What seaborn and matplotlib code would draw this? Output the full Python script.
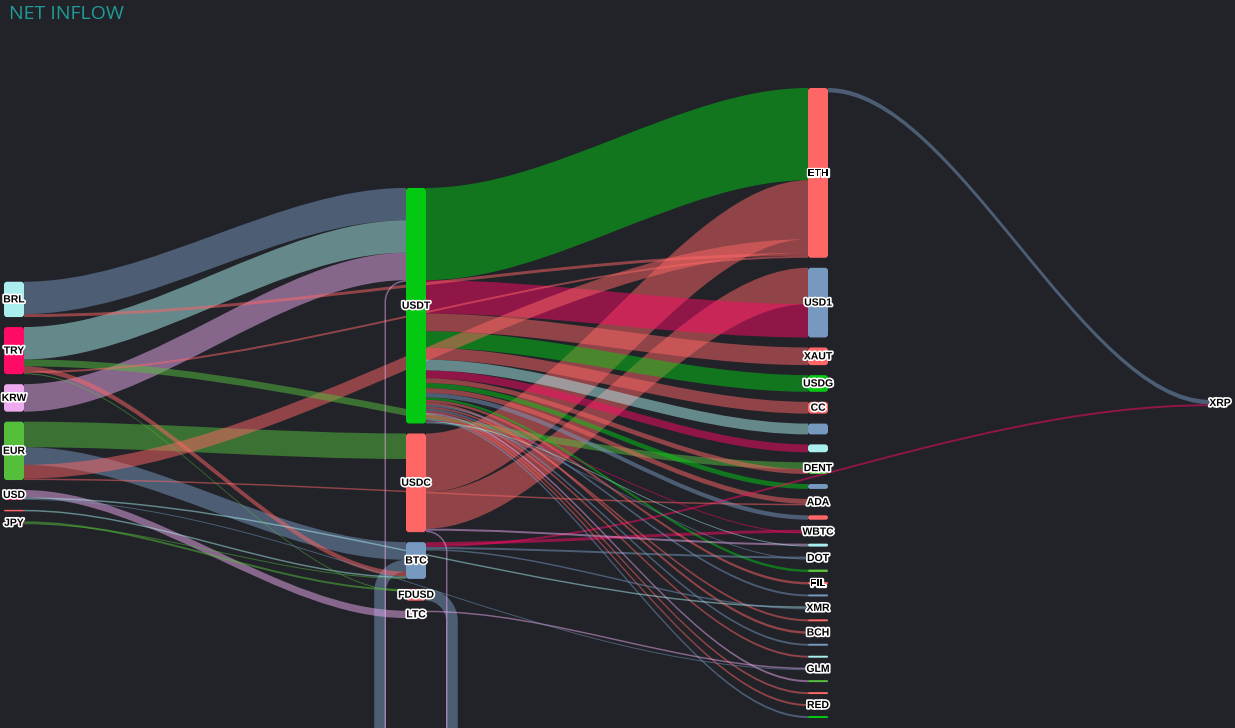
import numpy as np
import pandas as pd
import matplotlib
matplotlib.use("Agg")
import matplotlib.pyplot as plt
import seaborn as sns
from matplotlib.path import Path
from matplotlib.patches import PathPatch, FancyBboxPatch
import matplotlib.patheffects as pe

bg = "#212329"
sns.set_theme(style="dark", rc={"figure.facecolor": bg, "axes.facecolor": bg})
plt.rcParams["font.family"] = ["Liberation Sans", "DejaVu Sans"]

# ----------------------------------------------------------
# nodes, one list per column, top to bottom
fiat = ["BRL", "TRY", "KRW", "EUR", "USD", "GBP", "JPY"]
hubs = ["USDT", "USDC", "BTC", "FDUSD", "LTC"]
assets = ["ETH", "USD1", "XAUT", "USDG", "CC", "SOL", "DOGE", "DENT", "TRX",
          "ADA", "LINK", "WBTC", "AVAX", "DOT", "SHIB", "FIL", "PEPE", "XMR",
          "SUI", "BCH", "TON", "NEAR", "GLM", "UNI", "APT", "RED", "ARB"]
final = ["XRP"]

# flows: source -> target, value
flow_src = ["USDT", "USDC", "USDC", "USDT", "BRL", "TRY", "KRW", "EUR", "EUR", "USDT",
            "USDT", "EUR", "USDT", "FDUSD", "USDT", "USDT", "USD", "TRY", "TRY", "USDT",
            "USDT", "USDT", "ETH", "USDT", "BRL", "BTC", "USDT", "USDT", "USDT", "TRY",
            "BTC", "BTC", "USDC", "JPY", "USDT", "USDT", "USDT", "USDT", "USDT", "USDT",
            "USDT", "USDT", "EUR", "USDC", "USD", "BTC", "LTC", "GBP", "USDT", "USDT",
            "USDT", "TRY", "USD", "JPY"]
flow_dst = ["ETH", "ETH", "USD1", "USD1", "USDT", "USDT", "USDT", "USDC", "BTC", "XAUT",
            "USDG", "ETH", "CC", "BTC", "SOL", "DOGE", "LTC", "DENT", "BTC", "DENT",
            "TRX", "ADA", "XRP", "LINK", "ETH", "WBTC", "SHIB", "FIL", "BCH", "ETH",
            "XRP", "DOT", "AVAX", "FDUSD", "PEPE", "SUI", "TON", "NEAR", "UNI", "APT",
            "RED", "ARB", "ADA", "USDT", "XMR", "XMR", "GLM", "BTC", "WBTC", "AVAX",
            "DOT", "FDUSD", "GLM", "BTC"]
flow_val = [94, 60, 37, 34, 33, 33, 28, 26, 18, 18,
            17, 14, 12, 12, 11, 8, 7.5, 7, 5, 5,
            5, 5, 4.5, 4.5, 3, 3, 2.5, 2.5, 2.5, 2,
            2, 2, 2, 2, 2, 2, 2, 2, 2, 2,
            2, 2, 1.5, 1.5, 1.5, 1.5, 1.5, 1.5, 1, 1,
            1, 1, 1, 1]

# ----------------------------------------------------------
# styles
pal = {"cyan": "#aaeeee", "pink": "#ff0a66", "violet": "#eeaaee", "lime": "#55bf3b",
       "red": "#ff6666", "blue": "#7798bf", "green": "#03c913"}
flow_color = ["green", "red", "red", "pink", "blue", "cyan", "violet", "lime", "blue", "red",
              "green", "red", "red", "blue", "cyan", "pink", "violet", "lime", "red", "red",
              "green", "red", "blue", "blue", "red", "pink", "green", "red", "red", "red",
              "pink", "blue", "violet", "lime", "blue", "red", "blue", "red", "violet", "red",
              "red", "blue", "red", "violet", "cyan", "blue", "violet", "cyan", "pink", "cyan",
              "blue", "lime", "blue", "lime"]
node_color = {
    "BRL": "cyan", "TRY": "pink", "KRW": "violet", "EUR": "lime", "USD": "pink",
    "GBP": "red", "JPY": "pink",
    "USDT": "green", "USDC": "red", "BTC": "blue", "FDUSD": "red", "LTC": "violet",
    "ETH": "red", "USD1": "blue", "XAUT": "red", "USDG": "green", "CC": "red",
    "SOL": "blue", "DOGE": "cyan", "DENT": "lime", "TRX": "blue", "ADA": "red",
    "LINK": "red", "WBTC": "pink", "AVAX": "cyan", "DOT": "blue", "SHIB": "lime",
    "FIL": "red", "PEPE": "blue", "XMR": "cyan", "SUI": "red", "BCH": "blue",
    "TON": "blue", "NEAR": "cyan", "GLM": "violet", "UNI": "lime", "APT": "red",
    "RED": "red", "ARB": "green", "XRP": "red",
}
hidden_labels = {"GBP", "SOL", "DOGE", "TRX", "LINK", "AVAX", "SHIB", "PEPE",
                 "SUI", "TON", "NEAR", "UNI", "APT", "ARB"}

W, H = 1235, 728
left, right, top, bottom = 4, 1230, 88, 718
node_w, gap, bend = 20, 10, 20

# ----------------------------------------------------------
# layout
flows = pd.DataFrame({"src": flow_src, "dst": flow_dst, "val": flow_val,
                      "color": flow_color})
flows = flows.sort_values("val", ascending=False, kind="stable").reset_index(drop=True)

columns = [fiat, hubs, assets, final]
col_of = {n: i for i, col in enumerate(columns) for n in col}
node_val = {}
for n in col_of:
    vin = flows.loc[flows.dst == n, "val"].sum()
    vout = flows.loc[flows.src == n, "val"].sum()
    node_val[n] = max(vin, vout)

ky = min((bottom - top - gap * (len(c) - 1)) / sum(node_val[n] for n in c) for c in columns)
col_step = (right - left - node_w) / (len(columns) - 1)

node_x, node_y, node_h = {}, {}, {}
for i, col in enumerate(columns):
    total = sum(node_val[n] for n in col) * ky + gap * (len(col) - 1)
    y = top + (bottom - top - total) / 2
    for n in col:
        node_x[n] = left + i * col_step
        node_y[n] = y
        node_h[n] = node_val[n] * ky
        y += node_h[n] + gap

out_off = dict(node_y)
in_off = dict(node_y)
flows["sy"] = 0.0
flows["ty"] = 0.0
for i, r in flows.iterrows():
    w = r.val * ky
    flows.loc[i, "sy"] = out_off[r.src]
    out_off[r.src] += w
    flows.loc[i, "ty"] = in_off[r.dst]
    in_off[r.dst] += w

# ----------------------------------------------------------
fig = plt.figure(figsize=(W / 100, H / 100), dpi=100)
ax = fig.add_axes([0, 0, 1, 1])
ax.set_xlim(0, W)
ax.set_ylim(H, 0)
ax.axis("off")

C = Path.CURVE4
L = Path.LINETO


def band_path(x0, y0, x1, y1, w):
    c = (x1 - x0) * 0.33
    verts = [(x0, y0), (x0 + c, y0), (x1 - c, y1), (x1, y1), (x1, y1 + w),
             (x1 - c, y1 + w), (x0 + c, y0 + w), (x0, y0 + w), (x0, y0)]
    codes = [Path.MOVETO, C, C, C, L, C, C, C, Path.CLOSEPOLY]
    return Path(verts, codes)


def loop_path(xs, ys, xt, yt, w, yb):
    # link that runs back to an earlier column: out right, down, under, up, in left
    k = 0.55
    R, r = bend + w, bend
    xo, xi = xs + R, xs + r
    xlo, xli = xt - R, xt - r
    v = [(xs, ys),
         (xs + k * R, ys), (xo, ys + R - k * R), (xo, ys + R),
         (xo, yb - R),
         (xo, yb - R + k * R), (xs + k * R, yb), (xs, yb),
         (xt, yb),
         (xt - k * R, yb), (xlo, yb - R + k * R), (xlo, yb - R),
         (xlo, yt + R),
         (xlo, yt + R - k * R), (xt - k * R, yt), (xt, yt),
         (xt, yt + w),
         (xt - k * r, yt + w), (xli, yt + w + r - k * r), (xli, yt + w + r),
         (xli, yb - w - r),
         (xli, yb - w - r + k * r), (xt - k * r, yb - w), (xt, yb - w),
         (xs, yb - w),
         (xs + k * r, yb - w), (xi, yb - w - r + k * r), (xi, yb - w - r),
         (xi, ys + w + r),
         (xi, ys + w + r - k * r), (xs + k * r, ys + w), (xs, ys + w),
         (xs, ys)]
    codes = [Path.MOVETO, C, C, C, L, C, C, C, L, C, C, C, L, C, C, C,
             L, C, C, C, L, C, C, C, L, C, C, C, L, C, C, C, Path.CLOSEPOLY]
    return Path(v, codes)


for _, r in flows.iterrows():
    w = r.val * ky
    xs = node_x[r.src] + node_w
    xt = node_x[r.dst]
    if col_of[r.dst] <= col_of[r.src]:
        p = loop_path(xs, r.sy, xt, r.ty, w, bottom + 45)
    else:
        p = band_path(xs, r.sy, xt, r.ty, w)
    ax.add_patch(PathPatch(p, facecolor=pal[r.color], edgecolor="none",
                           alpha=0.5, zorder=1))

for n in col_of:
    h = node_h[n]
    ax.add_patch(FancyBboxPatch((node_x[n], node_y[n]), node_w, h,
                                boxstyle=f"round,pad=0,rounding_size={min(3, h / 2)}",
                                facecolor=pal[node_color[n]], edgecolor="none", zorder=2))
    if n not in hidden_labels:
        ax.text(node_x[n] + node_w / 2, node_y[n] + h / 2, n, ha="center", va="center",
                fontsize=7.5, fontweight="bold", color="#000000", zorder=3,
                path_effects=[pe.withStroke(linewidth=2.4, foreground="white")])

fig.text(9 / W, 1 - 14 / H, "NET INFLOW", ha="left", va="center", fontsize=14,
         color="#1f9c97", family=["Open Sans", "DejaVu Sans"])

fig.savefig("out.png", dpi=100, facecolor=bg)
